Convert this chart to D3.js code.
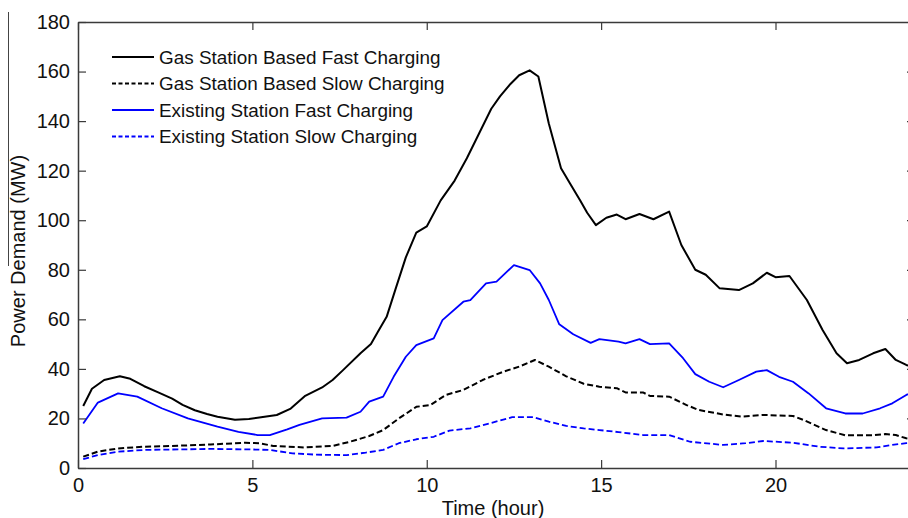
<!DOCTYPE html>
<html>
<head>
<meta charset="utf-8">
<script src="https://d3js.org/d3.v7.min.js"></script>
<style>
  html, body { margin: 0; padding: 0; background: #fff; }
  svg { display: block; font-family: Arial, "Liberation Sans", sans-serif; }
</style>
</head>
<body>
<svg id="chart" width="908" height="518"></svg>
<script>
// series: [hour, MW]
const gasFast = [
  [0.15, 25], [0.4, 32], [0.75, 35.5], [1.2, 37], [1.5, 36], [1.9, 33], [2.3, 30.5], [2.7, 28],
  [3.0, 25.5], [3.35, 23.3], [3.7, 21.8], [4.0, 20.7], [4.5, 19.5], [4.9, 19.8], [5.2, 20.4],
  [5.7, 21.4], [6.1, 24], [6.5, 29], [7.0, 32.5], [7.3, 35.5], [7.6, 39.5], [8.1, 46.3], [8.4, 50],
  [8.6, 55], [8.85, 61], [9.1, 72], [9.4, 85], [9.7, 95], [10.0, 97.5], [10.4, 108], [10.8, 116],
  [11.15, 125], [11.5, 135], [11.85, 145], [12.1, 150], [12.4, 155], [12.65, 158.5], [12.95, 160.5],
  [13.2, 158], [13.5, 139], [13.85, 121], [14.1, 115], [14.4, 108], [14.6, 103], [14.85, 98],
  [15.15, 101], [15.45, 102.3], [15.7, 100.4], [16.1, 102.5], [16.5, 100.4], [16.95, 103.5],
  [17.3, 90], [17.7, 80], [18.0, 78], [18.4, 72.5], [18.95, 71.8], [19.35, 74.5], [19.75, 78.8],
  [20.0, 77], [20.4, 77.5], [20.9, 67.8], [21.35, 55.7], [21.75, 46.3], [22.05, 42.3], [22.4, 43.6],
  [22.8, 46.3], [23.15, 48], [23.45, 43.6], [23.75, 41.6], [24, 40.5]
]
const gasSlow = [
  [0.15, 4.6], [0.57, 6.6], [1.15, 7.9], [1.9, 8.6], [2.9, 9], [3.8, 9.5], [4.8, 10.2], [5.2, 10],
  [5.6, 8.9], [6.5, 8.3], [7.3, 8.9], [7.8, 10.6], [8.35, 12.9], [8.75, 15.3], [9.2, 20], [9.7, 24.7],
  [10.1, 25.4], [10.55, 29.5], [11.05, 31.5], [11.6, 35.5], [12.2, 38.9], [12.65, 40.9], [13.1, 43.6],
  [13.5, 40.9], [14.0, 37], [14.5, 34], [14.95, 32.8], [15.45, 32.2], [15.7, 30.5], [16.2, 30.5],
  [16.4, 29.1], [16.95, 28.8], [17.45, 25.4], [17.8, 23.4], [18.5, 21.6], [19.05, 20.7], [19.65, 21.4],
  [20.5, 21], [20.8, 19.4], [21.45, 15.3], [22.0, 13.2], [22.8, 13.2], [23.15, 13.7], [23.45, 13.3],
  [23.75, 12], [24, 11.5]
]
const existFast = [
  [0.15, 18], [0.57, 26.4], [1.15, 30.1], [1.7, 28.8], [2.4, 24.1], [3.15, 20], [4.0, 16.7],
  [4.6, 14.6], [5.15, 13.3], [5.5, 13.3], [6.0, 15.6], [6.35, 17.4], [7.0, 20], [7.7, 20.3],
  [8.1, 22.7], [8.35, 26.8], [8.75, 28.8], [9.05, 36.8], [9.4, 44.9], [9.7, 49.6], [10.2, 52.3],
  [10.45, 59.7], [11.05, 67.1], [11.25, 67.8], [11.7, 74.5], [12.0, 75.2], [12.5, 81.9], [12.95, 79.9],
  [13.25, 74.5], [13.5, 67.8], [13.8, 58], [14.2, 54], [14.7, 50.5], [14.95, 52], [15.5, 51],
  [15.7, 50.3], [16.1, 52], [16.4, 50], [16.95, 50.3], [17.35, 44.3], [17.7, 37.9], [18.1, 34.8],
  [18.5, 32.6], [18.95, 35.5], [19.45, 38.9], [19.75, 39.5], [20.1, 36.8], [20.5, 34.8], [20.95, 30.1],
  [21.45, 24.1], [22.0, 22], [22.5, 22], [23.0, 24.1], [23.35, 26.1], [23.75, 29.5], [24, 31]
]
const existSlow = [
  [0.15, 3.6], [0.57, 5.2], [1.15, 6.6], [1.9, 7.3], [2.9, 7.5], [3.8, 7.7], [4.9, 7.5], [5.5, 7.3],
  [6.15, 5.9], [6.8, 5.4], [7.7, 5.2], [8.25, 6.2], [8.75, 7.3], [9.2, 10], [9.7, 11.6], [10.2, 12.6],
  [10.65, 15.1], [11.25, 16], [11.8, 18], [12.45, 20.5], [13.05, 20.5], [13.5, 18.7], [14.0, 17],
  [14.5, 16], [14.95, 15.3], [15.5, 14.5], [16.2, 13.3], [16.95, 13.3], [17.55, 10.6], [18.5, 9.3],
  [19.15, 10], [19.65, 10.9], [20.5, 10.2], [21.25, 8.6], [21.95, 7.9], [22.9, 8.3], [23.35, 9.3],
  [23.75, 10], [24, 10.2]
]
const seriesNames = [
  'Gas Station Based Fast Charging',
  'Gas Station Based Slow Charging',
  'Existing Station Fast Charging',
  'Existing Station Slow Charging'
]
const xTicks = [0, 5, 10, 15, 20]
const yTicks = [0, 20, 40, 60, 80, 100, 120, 140, 160, 180]

const margin = { left: 78, top: 22, right: -7, bottom: 50 }
const width = 908 - margin.left - margin.right
const height = 518 - margin.top - margin.bottom
const axisColor = '#3a3a3a'

const svg = d3.select('#chart')
const g = svg.append('g').attr('transform', `translate(${margin.left}, ${margin.top})`)

const x = d3.scaleLinear().domain([0, 24]).range([0, width])
const y = d3.scaleLinear().domain([0, 180]).range([height, 0])

// stray rule at the far left of the original image
svg.append('line')
  .attr('x1', 8.5).attr('x2', 8.5).attr('y1', 12).attr('y2', 266)
  .attr('stroke', '#444').attr('stroke-width', 1)

g.append('defs').append('clipPath').attr('id', 'plot')
  .append('rect').attr('width', width).attr('height', height)

const styles = [
  { data: gasFast, color: '#000', dash: null, w: 2 },
  { data: gasSlow, color: '#000', dash: '6,3', w: 2 },
  { data: existFast, color: '#0000ff', dash: null, w: 1.8 },
  { data: existSlow, color: '#0000ff', dash: '6,3', w: 1.8 }
]

const line = d3.line().x(d => x(d[0])).y(d => y(d[1]))

g.append('g').attr('clip-path', 'url(#plot)')
  .selectAll('path')
  .data(styles)
  .join('path')
  .attr('d', d => line(d.data))
  .attr('fill', 'none')
  .attr('stroke', d => d.color)
  .attr('stroke-width', d => d.w)
  .attr('stroke-dasharray', d => d.dash)
  .attr('stroke-linejoin', 'round')

// matlab style box with inward ticks
function styleAxis (sel) {
  sel.select('.domain').attr('stroke', axisColor).attr('stroke-width', 1.5)
  sel.selectAll('.tick line').attr('stroke', axisColor).attr('stroke-width', 1.2)
  sel.selectAll('.tick text').attr('fill', '#111').attr('font-size', 20)
}

g.append('g').attr('transform', `translate(0, ${height})`)
  .call(d3.axisBottom(x).tickValues(xTicks).tickSizeInner(-8).tickSizeOuter(0).tickPadding(10))
  .call(styleAxis)

g.append('g')
  .call(d3.axisTop(x).tickValues(xTicks).tickSizeInner(-8).tickSizeOuter(0).tickFormat(''))
  .call(styleAxis)

g.append('g')
  .call(d3.axisLeft(y).tickValues(yTicks).tickSizeInner(-8).tickSizeOuter(0).tickPadding(8))
  .call(styleAxis)

g.append('g').attr('transform', `translate(${width}, 0)`)
  .call(d3.axisRight(y).tickValues(yTicks).tickSizeInner(-8).tickSizeOuter(0).tickFormat(''))
  .call(styleAxis)

g.selectAll('text').attr('font-family', null)

// axis titles
svg.append('text')
  .attr('x', 493).attr('y', 515)
  .attr('text-anchor', 'middle')
  .attr('font-size', 20)
  .attr('fill', '#111')
  .text('Time (hour)')

svg.append('text')
  .attr('transform', 'translate(25, 251) rotate(-90)')
  .attr('text-anchor', 'middle')
  .attr('font-size', 20)
  .attr('fill', '#111')
  .text('Power Demand (MW)')

// legend
const legend = svg.append('g').attr('transform', 'translate(112, 57)')
const rows = legend.selectAll('g')
  .data(styles)
  .join('g')
  .attr('transform', (d, i) => `translate(0, ${i * 26.5})`)

rows.append('line')
  .attr('x1', 0).attr('x2', 42)
  .attr('stroke', d => d.color)
  .attr('stroke-width', d => d.w)
  .attr('stroke-dasharray', d => d.dash ? '4,2.5' : null)

rows.append('text')
  .attr('x', 47).attr('dy', '0.35em')
  .attr('font-size', 18.9)
  .attr('fill', '#111')
  .text((d, i) => seriesNames[i])
</script>
</body>
</html>
